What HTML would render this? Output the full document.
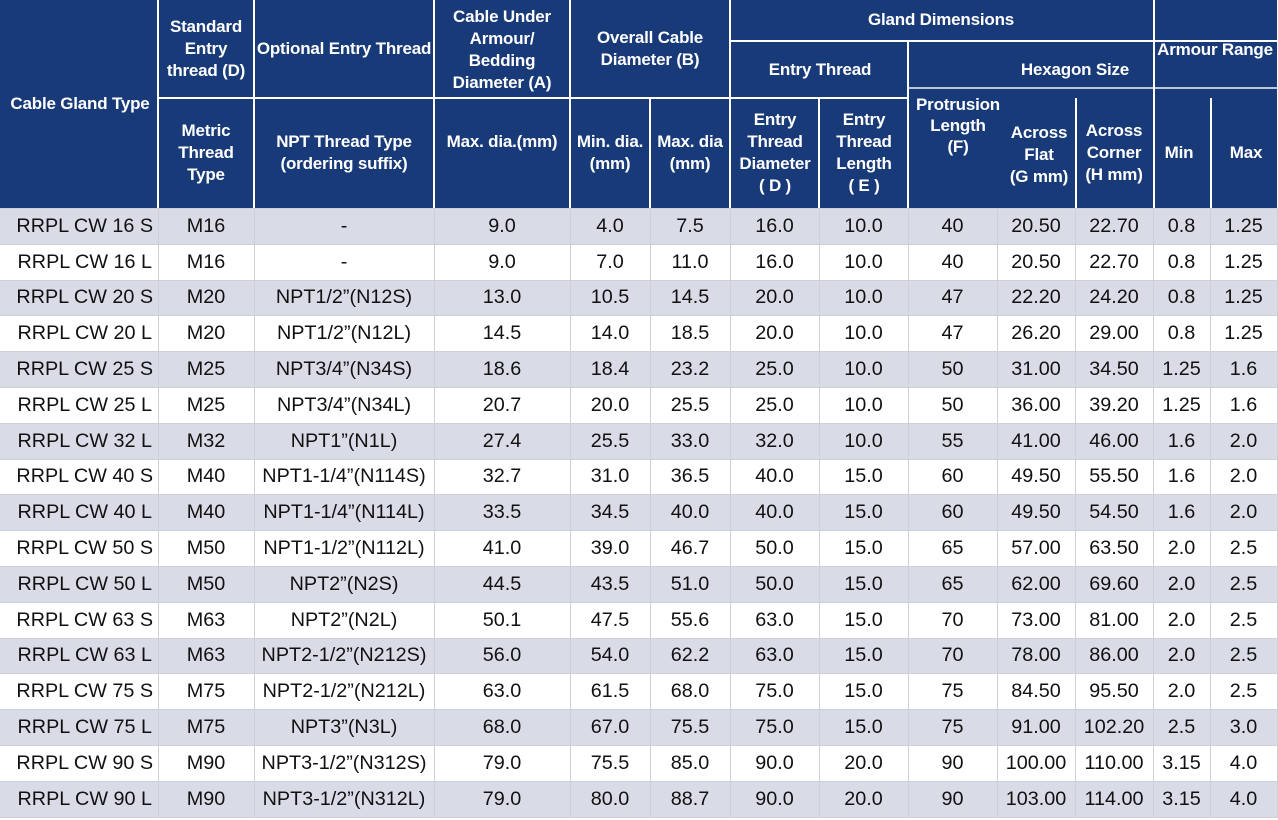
<!DOCTYPE html>
<html><head><meta charset="utf-8">
<style>
html,body{margin:0;padding:0;background:#fff;}
body{width:1278px;height:820px;position:relative;overflow:hidden;font-family:"Liberation Sans",Arial,sans-serif;}
#hdr{position:absolute;left:0;top:0;width:1277px;height:208px;background:#183a78;}
.t{position:absolute;color:#fff;font-weight:bold;font-size:17px;line-height:22px;text-align:center;white-space:nowrap;transform:translateX(-50%);letter-spacing:-0.2px;}
.v{position:absolute;width:1.5px;background:#fff;}
.h{position:absolute;height:1.5px;background:#fff;}
table{position:absolute;left:0;top:208px;border-collapse:collapse;table-layout:fixed;width:1277px;}
td{height:35.8px;padding:0;border:1px solid #cfd0d6;text-align:center;font-size:19.8px;color:#111;box-sizing:border-box;white-space:nowrap;}
tr:nth-child(odd) td{background:#d9dbe7;}
tr td:first-child{border-left:none;padding-left:12px;}
</style></head><body>
<div id="hdr">
<div class="v" style="left:157px;top:0;height:208px"></div>
<div class="v" style="left:253px;top:0;height:208px"></div>
<div class="v" style="left:433px;top:0;height:208px"></div>
<div class="v" style="left:569px;top:0;height:208px"></div>
<div class="v" style="left:649px;top:98px;height:110px"></div>
<div class="v" style="left:729px;top:0;height:208px"></div>
<div class="v" style="left:818px;top:98px;height:110px"></div>
<div class="v" style="left:907px;top:40px;height:168px"></div>
<div class="v" style="left:1075px;top:98px;height:110px"></div>
<div class="v" style="left:1153px;top:0;height:208px"></div>
<div class="v" style="left:1210px;top:98px;height:110px"></div>
<div class="h" style="left:157px;top:97px;width:573px"></div>
<div class="h" style="left:729px;top:97px;width:180px"></div>
<div class="h" style="left:729px;top:40px;width:548px"></div>
<div class="h" style="left:907px;top:87px;width:370px;opacity:.7"></div>

<div class="t" style="left:80px;top:93px">Cable Gland Type</div>
<div class="t" style="left:206px;top:16px">Standard<br>Entry<br>thread (D)</div>
<div class="t" style="left:344px;top:38px">Optional Entry Thread</div>
<div class="t" style="left:502px;top:6px">Cable Under<br>Armour/<br>Bedding<br>Diameter (A)</div>
<div class="t" style="left:650px;top:27px">Overall Cable<br>Diameter (B)</div>
<div class="t" style="left:941px;top:9px">Gland Dimensions</div>
<div class="t" style="left:820px;top:59px">Entry Thread</div>
<div class="t" style="left:1075px;top:59px">Hexagon Size</div>
<div class="t" style="left:1215px;top:39px">Armour Range</div>
<div class="t" style="left:206px;top:120px">Metric<br>Thread<br>Type</div>
<div class="t" style="left:344px;top:131px">NPT Thread Type<br>(ordering suffix)</div>
<div class="t" style="left:502px;top:131px">Max. dia.(mm)</div>
<div class="t" style="left:610px;top:131px">Min. dia.<br>(mm)</div>
<div class="t" style="left:690px;top:131px">Max. dia<br>(mm)</div>
<div class="t" style="left:775px;top:109px">Entry<br>Thread<br>Diameter<br>( D )</div>
<div class="t" style="left:864px;top:109px">Entry<br>Thread<br>Length<br>( E )</div>
<div class="t" style="left:958px;top:94px;line-height:21px">Protrusion<br>Length<br>(F)</div>
<div class="t" style="left:1039px;top:122px">Across<br>Flat<br>(G mm)</div>
<div class="t" style="left:1114px;top:120px">Across<br>Corner<br>(H mm)</div>
<div class="t" style="left:1179px;top:142px">Min</div>
<div class="t" style="left:1246px;top:142px">Max</div>
</div>
<table>
<colgroup><col style="width:158px"><col style="width:96px"><col style="width:180px"><col style="width:136px"><col style="width:80px"><col style="width:80px"><col style="width:89px"><col style="width:89px"><col style="width:89px"><col style="width:78px"><col style="width:78px"><col style="width:57px"><col style="width:67px"></colgroup>
<tr><td>RRPL CW 16 S</td><td>M16</td><td>-</td><td>9.0</td><td>4.0</td><td>7.5</td><td>16.0</td><td>10.0</td><td>40</td><td>20.50</td><td>22.70</td><td>0.8</td><td>1.25</td></tr>
<tr><td>RRPL CW 16 L</td><td>M16</td><td>-</td><td>9.0</td><td>7.0</td><td>11.0</td><td>16.0</td><td>10.0</td><td>40</td><td>20.50</td><td>22.70</td><td>0.8</td><td>1.25</td></tr>
<tr><td>RRPL CW 20 S</td><td>M20</td><td>NPT1/2”(N12S)</td><td>13.0</td><td>10.5</td><td>14.5</td><td>20.0</td><td>10.0</td><td>47</td><td>22.20</td><td>24.20</td><td>0.8</td><td>1.25</td></tr>
<tr><td>RRPL CW 20 L</td><td>M20</td><td>NPT1/2”(N12L)</td><td>14.5</td><td>14.0</td><td>18.5</td><td>20.0</td><td>10.0</td><td>47</td><td>26.20</td><td>29.00</td><td>0.8</td><td>1.25</td></tr>
<tr><td>RRPL CW 25 S</td><td>M25</td><td>NPT3/4”(N34S)</td><td>18.6</td><td>18.4</td><td>23.2</td><td>25.0</td><td>10.0</td><td>50</td><td>31.00</td><td>34.50</td><td>1.25</td><td>1.6</td></tr>
<tr><td>RRPL CW 25 L</td><td>M25</td><td>NPT3/4”(N34L)</td><td>20.7</td><td>20.0</td><td>25.5</td><td>25.0</td><td>10.0</td><td>50</td><td>36.00</td><td>39.20</td><td>1.25</td><td>1.6</td></tr>
<tr><td>RRPL CW 32 L</td><td>M32</td><td>NPT1”(N1L)</td><td>27.4</td><td>25.5</td><td>33.0</td><td>32.0</td><td>10.0</td><td>55</td><td>41.00</td><td>46.00</td><td>1.6</td><td>2.0</td></tr>
<tr><td>RRPL CW 40 S</td><td>M40</td><td>NPT1-1/4”(N114S)</td><td>32.7</td><td>31.0</td><td>36.5</td><td>40.0</td><td>15.0</td><td>60</td><td>49.50</td><td>55.50</td><td>1.6</td><td>2.0</td></tr>
<tr><td>RRPL CW 40 L</td><td>M40</td><td>NPT1-1/4”(N114L)</td><td>33.5</td><td>34.5</td><td>40.0</td><td>40.0</td><td>15.0</td><td>60</td><td>49.50</td><td>54.50</td><td>1.6</td><td>2.0</td></tr>
<tr><td>RRPL CW 50 S</td><td>M50</td><td>NPT1-1/2”(N112L)</td><td>41.0</td><td>39.0</td><td>46.7</td><td>50.0</td><td>15.0</td><td>65</td><td>57.00</td><td>63.50</td><td>2.0</td><td>2.5</td></tr>
<tr><td>RRPL CW 50 L</td><td>M50</td><td>NPT2”(N2S)</td><td>44.5</td><td>43.5</td><td>51.0</td><td>50.0</td><td>15.0</td><td>65</td><td>62.00</td><td>69.60</td><td>2.0</td><td>2.5</td></tr>
<tr><td>RRPL CW 63 S</td><td>M63</td><td>NPT2”(N2L)</td><td>50.1</td><td>47.5</td><td>55.6</td><td>63.0</td><td>15.0</td><td>70</td><td>73.00</td><td>81.00</td><td>2.0</td><td>2.5</td></tr>
<tr><td>RRPL CW 63 L</td><td>M63</td><td>NPT2-1/2”(N212S)</td><td>56.0</td><td>54.0</td><td>62.2</td><td>63.0</td><td>15.0</td><td>70</td><td>78.00</td><td>86.00</td><td>2.0</td><td>2.5</td></tr>
<tr><td>RRPL CW 75 S</td><td>M75</td><td>NPT2-1/2”(N212L)</td><td>63.0</td><td>61.5</td><td>68.0</td><td>75.0</td><td>15.0</td><td>75</td><td>84.50</td><td>95.50</td><td>2.0</td><td>2.5</td></tr>
<tr><td>RRPL CW 75 L</td><td>M75</td><td>NPT3”(N3L)</td><td>68.0</td><td>67.0</td><td>75.5</td><td>75.0</td><td>15.0</td><td>75</td><td>91.00</td><td>102.20</td><td>2.5</td><td>3.0</td></tr>
<tr><td>RRPL CW 90 S</td><td>M90</td><td>NPT3-1/2”(N312S)</td><td>79.0</td><td>75.5</td><td>85.0</td><td>90.0</td><td>20.0</td><td>90</td><td>100.00</td><td>110.00</td><td>3.15</td><td>4.0</td></tr>
<tr><td>RRPL CW 90 L</td><td>M90</td><td>NPT3-1/2”(N312L)</td><td>79.0</td><td>80.0</td><td>88.7</td><td>90.0</td><td>20.0</td><td>90</td><td>103.00</td><td>114.00</td><td>3.15</td><td>4.0</td></tr>
</table>
</body></html>
